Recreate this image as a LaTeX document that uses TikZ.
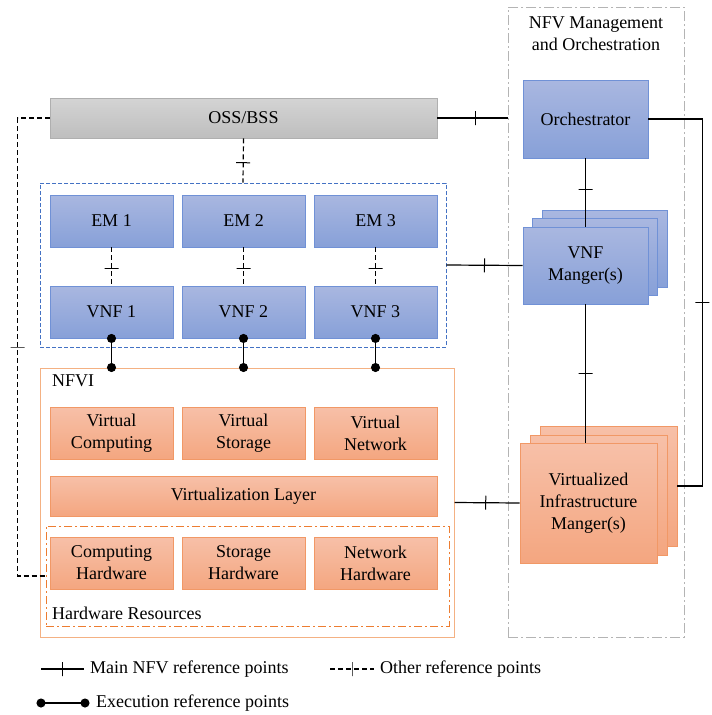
\documentclass[tikz,border=0pt]{standalone}
\usepackage{fontspec}
\setmainfont{Liberation Serif}
\newfontfamily\diagfont{Liberation Serif}
\usetikzlibrary{arrows.meta}

\definecolor{bluetop}{RGB}{169,183,224}
\definecolor{bluebot}{RGB}{135,160,216}
\definecolor{blueedge}{RGB}{112,145,214}
\definecolor{orangetop}{RGB}{247,192,168}
\definecolor{orangebot}{RGB}{244,166,128}
\definecolor{orangeedge}{RGB}{241,152,102}
\definecolor{graytop}{RGB}{212,212,212}
\definecolor{graybot}{RGB}{190,190,190}
\definecolor{grayedge}{RGB}{175,175,175}

\tikzset{
  box/.style={inner sep=0pt, align=center, font=\diagfont\fontsize{18}{22}\selectfont},
  bluebox/.style={box, draw=blueedge, line width=0.9pt, top color=bluetop, bottom color=bluebot},
  orangebox/.style={box, draw=orangeedge, line width=0.9pt, top color=orangetop, bottom color=orangebot},
  graybox/.style={box, draw=grayedge, line width=0.9pt, top color=graytop, bottom color=graybot},
  cell/.style={minimum width=123, minimum height=52},
  txt/.style={inner sep=0pt, align=center, font=\diagfont\fontsize{18}{22}\selectfont},
  refmark/.style={solid, draw, line width=1pt, minimum width=0pt, minimum height=14pt, inner sep=0pt, sloped},
  mainref/.style={line width=1.2pt},
  otherref/.style={line width=1.2pt, dash pattern=on 5pt off 3pt},
  execref/.style={line width=1.4pt, {Circle[length=9pt]}-{Circle[length=9pt]}, shorten <=-4.5pt, shorten >=-4.5pt},
}

\begin{document}
\begin{tikzpicture}[x=1pt,y=-1pt]
  \fill[white] (0,0) rectangle (712,715);
  \useasboundingbox (0,0) rectangle (712,715);

  % MANO frame
  \node[draw={rgb,255:red,180;green,180;blue,180}, line width=1pt, dash pattern=on 10pt off 3pt on 2pt off 3pt,
        minimum width=176, minimum height=630, inner sep=0pt] (mano) at (596,322) {};
  \node[txt] (manotitle) at (596,34) {NFV Management\\and Orchestration};

  % OSS/BSS
  \node[graybox, minimum width=387, minimum height=40] (oss) at (243.5,118) {OSS/BSS};

  % VNF area
  \node[draw={rgb,255:red,68;green,114;blue,196}, line width=0.9pt, dash pattern=on 4pt off 2pt,
        minimum width=406, minimum height=164, inner sep=0pt] (vnfarea) at (243,265) {};

  % NFVI
  \node[draw={rgb,255:red,244;green,177;blue,131}, line width=1pt,
        minimum width=414, minimum height=269, inner sep=0pt] (nfvi) at (247,502.5) {};
  \node[txt, anchor=west] (nfvilabel) at (52,381) {NFVI};
  \node[draw={rgb,255:red,237;green,125;blue,49}, line width=1pt, dash pattern=on 8pt off 3pt on 2pt off 3pt,
        minimum width=403, minimum height=100, inner sep=0pt] (hwres) at (247.5,576) {};
  \node[txt, anchor=west] (hwlabel) at (52,613) {Hardware Resources};

  \foreach \i/\x/\lab in {1/111.5/Computing,2/243.5/Storage,3/375.5/Network}{
    \node[orangebox, cell] (virt\i) at (\x,433) {Virtual\\\lab};
    \node[orangebox, cell] (hw\i) at (\x,563) {\lab\\Hardware};
  }
  \node[orangebox, minimum width=387, minimum height=40] (vlayer) at (243.5,496) {Virtualization Layer};

  \foreach \i/\x in {1/111.5,2/243.5,3/375.5}{
    \node[bluebox, cell] (em\i) at (\x,221) {EM \i};
    \node[bluebox, cell] (vnf\i) at (\x,312) {VNF \i};
    \draw[otherref] (em\i) -- node[refmark,pos=0.56]{} (vnf\i);
    \draw[execref] (vnf\i.south) -- (vnf\i.south |- nfvi.north);
  }

  % MANO blocks
  \node[bluebox, minimum width=125, minimum height=78] (orch) at (585.5,119) {Orchestrator};
  \node[bluebox, minimum width=125, minimum height=77] (vnfmback) at (604.5,249) {};
  \node[bluebox, minimum width=125, minimum height=77] (vnfmmid) at (595,257) {};
  \node[bluebox, minimum width=125, minimum height=77] (vnfm) at (585.5,265.5) {VNF\\Manger(s)};
  \node[orangebox, minimum width=137, minimum height=120] (vimback) at (608.5,486) {};
  \node[orangebox, minimum width=137, minimum height=120] (vimmid) at (598.5,495) {};
  \node[orangebox, minimum width=137, minimum height=120] (vim) at (588.5,503) {Virtualized\\Infrastructure\\Manger(s)};

  % reference points
  \draw[mainref] (oss.east) -- node[refmark,pos=0.54]{} (oss.east -| mano.west);
  \draw[otherref] (oss.south) -- node[refmark,pos=0.55]{} (vnfarea.north);
  \draw[otherref] (oss.west) -- ++(-32,0) |- node[refmark,pos=0.25]{} (hwres.west);
  \draw[mainref] (vnfarea.east) -- node[refmark]{} (vnfm.west);
  \draw[mainref] (orch) -- node[refmark,pos=0.46]{} (vnfm);
  \draw[mainref] (vnfm.south) -- node[refmark]{} (vnfm.south |- vim.north);
  \draw[mainref] (orch.east) -- ++(54,0) |- node[refmark,pos=0.25]{} (vimback.east);
  \draw[mainref] (nfvi.east) -- node[refmark,pos=0.48]{} (vim.west);

  % legend
  \coordinate (mainA) at (41,669);
  \coordinate (mainB) at (84,669);
  \draw[mainref] (mainA) -- node[refmark]{} (mainB);
  \node[txt, anchor=west] (mainlabel) at (90,669) {Main NFV reference points};
  \coordinate (otherA) at (330,669);
  \coordinate (otherB) at (374,669);
  \draw[otherref] (otherA) -- node[refmark]{} (otherB);
  \node[txt, anchor=west] (otherlabel) at (380,669) {Other reference points};
  \coordinate (execA) at (41,703);
  \coordinate (execB) at (85,703);
  \draw[execref] (execA) -- (execB);
  \node[txt, anchor=west] (execlabel) at (96,703) {Execution reference points};
\end{tikzpicture}
\end{document}
